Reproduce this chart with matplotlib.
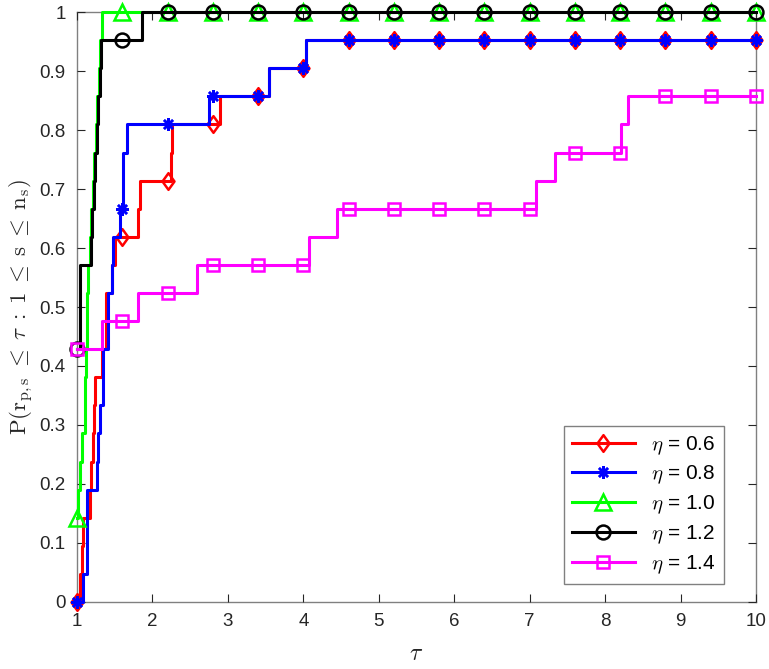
import numpy as np
import matplotlib
matplotlib.use("Agg")
import matplotlib.pyplot as plt
from matplotlib.path import Path

# Performance ratios r_{p,s} of the 21 test problems for each eta (inf = not solved)
INF = np.inf
ratios_06 = [1.04, 1.06, 1.08, 1.17, 1.19, 1.21, 1.23, 1.24, 1.33, 1.385, 1.39,
             1.46, 1.50, 1.81, 1.84, 2.24, 2.26, 2.89, 3.55, 4.04, INF]
ratios_08 = [1.08, 1.13, 1.13, 1.13, 1.26, 1.28, 1.30, 1.35, 1.35, 1.41, 1.41,
             1.46, 1.48, 1.57, 1.61, 1.61, 1.66, 2.75, 3.55, 4.04, INF]
ratios_10 = [1.0, 1.0, 1.0, 1.017, 1.04, 1.06, 1.10, 1.11, 1.12, 1.13, 1.13,
             1.15, 1.17, 1.19, 1.21, 1.23, 1.25, 1.27, 1.29, 1.31, 1.33]
ratios_12 = [1.0, 1.0, 1.0, 1.0, 1.0, 1.0, 1.0, 1.0, 1.0, 1.04, 1.04, 1.04,
             1.18, 1.20, 1.22, 1.24, 1.26, 1.28, 1.30, 1.32, 1.86]
ratios_14 = [1.0, 1.0, 1.0, 1.0, 1.0, 1.0, 1.0, 1.0, 1.0, 1.33, 1.81, 2.59,
             4.07, 4.44, 7.08, 7.33, 8.21, 8.30, INF, INF, INF]

labels = [r'$\eta$ = 0.6', r'$\eta$ = 0.8', r'$\eta$ = 1.0', r'$\eta$ = 1.2', r'$\eta$ = 1.4']
series = [ratios_06, ratios_08, ratios_10, ratios_12, ratios_14]
colors = ['#ff0000', '#0000ff', '#00ff00', '#000000', '#ff00ff']

tau_min, tau_max = 1.0, 10.0
marker_taus = np.round(np.arange(tau_min, tau_max + 1e-9, 0.6), 6)

diamond = Path([(0, -1), (0.72, 0), (0, 1), (-0.72, 0), (0, -1)],
               [Path.MOVETO, Path.LINETO, Path.LINETO, Path.LINETO, Path.CLOSEPOLY])
markers = [diamond, (8, 2, 0), '^', 'o', 's']
msizes = [12, 9, 11, 10, 8]

plt.rcParams['font.family'] = ['Liberation Sans', 'DejaVu Sans']
plt.rcParams['mathtext.fontset'] = 'cm'

fig = plt.figure(figsize=(7.69, 6.69), dpi=100)
ax = fig.add_axes([0.1001, 0.1002, 0.8830, 0.8818])

for r, lab, c, m, ms in zip(series, labels, colors, markers, msizes):
    r = np.sort(np.array(r, dtype=float))
    n = len(r)
    brk = r[np.isfinite(r) & (r >= tau_min) & (r <= tau_max)]
    xs = np.unique(np.concatenate([[tau_min], brk, marker_taus, [tau_max]]))
    ys = np.searchsorted(r, xs, side='right') / n
    idx = [int(np.argmin(np.abs(xs - t))) for t in marker_taus]
    ax.plot(xs, ys, drawstyle='steps-post', color=c, lw=2.2, marker=m, ms=ms,
            mfc='none', mec=c, mew=1.8, markevery=idx, label=lab, clip_on=False)

ax.set_xlim(tau_min, tau_max)
ax.set_ylim(0, 1)
ax.set_xticks(np.arange(1, 11))
ax.set_yticks(np.round(np.arange(0, 1.01, 0.1), 1))
ax.set_yticklabels(['0', '0.1', '0.2', '0.3', '0.4', '0.5', '0.6', '0.7', '0.8', '0.9', '1'])
ax.tick_params(direction='in', top=True, right=True, length=6, width=0.8,
               colors='#262626', labelsize=13.5, pad=8)
for s in ax.spines.values():
    s.set_color('#808080')
    s.set_linewidth(1.0)
    s.set_zorder(0.5)

ax.set_xlabel(r'$\tau$', fontsize=17, color='#262626', labelpad=9)
ax.set_ylabel(r'$\mathrm{P}(\mathrm{r}_{\mathrm{p,s}}\;\leq\;\tau\;:\;1\;\leq\;\mathrm{s}\;\leq\;\mathrm{n}_{\mathrm{s}})$',
              fontsize=16.5, color='#262626', labelpad=3)

leg = ax.legend(loc='lower right', bbox_to_anchor=(0.953, 0.03), fontsize=15,
                handlelength=3.0, numpoints=1, fancybox=False, framealpha=1,
                edgecolor='#808080', borderpad=0.4, labelspacing=0.35,
                handletextpad=0.8, borderaxespad=0)
leg.get_frame().set_linewidth(1.0)

fig.savefig('out.png', dpi=100)
